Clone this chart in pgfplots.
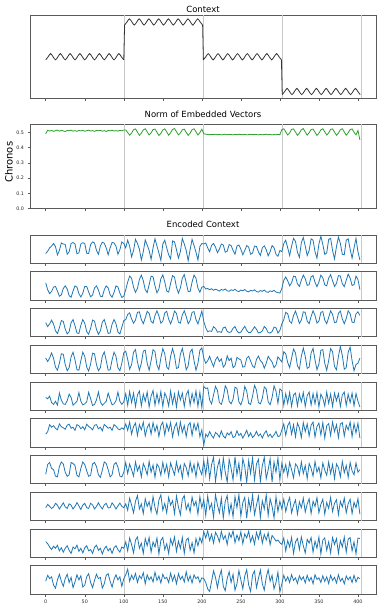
\documentclass[border=0pt]{standalone}
\usepackage{pgfplots}
\pgfplotsset{compat=1.18}
\usepackage{fontspec}
\setmainfont{DejaVu Sans}
\definecolor{cblue}{HTML}{1F77B4}
\definecolor{cgreen}{HTML}{2CA02C}
\definecolor{cgray}{HTML}{C8C8C8}
\definecolor{cframe}{HTML}{5A5A5A}
\pgfplotsset{
 panel/.style={
  scale only axis, width=346pt, anchor=north west,
  xmin=-20.15, xmax=423.15,
  axis line style={cframe, line width=0.7pt},
  xtick={0,50,...,400}, xticklabels={},
  xtick pos=bottom, ytick pos=left,
  tick align=outside, major tick length=2.5pt,
  tick style={cframe, line width=0.5pt},
  tick label style={font=\fontsize{4.8}{5}\selectfont, text=black!85},
  /pgf/number format/assume math mode=true,
  extra x ticks={101,202,303,404},
  extra x tick labels={},
  extra x tick style={grid=major, major tick length=0pt},
  major grid style={cgray, line width=0.8pt},
  title style={font=\fontsize{8.5}{10}\selectfont},
 },
 enc/.style={panel, height=28.3pt, ymin=-0.05, ymax=1.05, ytick=\empty},
 eline/.style={cblue, line width=0.8pt},
}
\begin{document}
\begin{tikzpicture}
\useasboundingbox (0pt,-609pt) rectangle (381pt,0pt);
% ---------------- Context
\begin{axis}[panel, at={(30pt,-15pt)}, height=83.5pt, ymin=-1.2, ymax=1.2, ytick=\empty, title={Context}, title style={yshift=-7pt}]
\addplot[black!80, line width=0.8pt, smooth] coordinates {(0,-.09)(3.125,0)(6.25,.09)(9.375,0)(12.5,-.09)(15.625,0)(18.75,.09)(21.875,0)(25,-.09)(28.125,0)(31.25,.09)(34.375,0)(37.5,-.09)(40.625,0)(43.75,.09)(46.875,0)(50,-.09)(53.125,0)(56.25,.09)(59.375,0)(62.5,-.09)(65.625,0)(68.75,.09)(71.875,0)(75,-.09)(78.125,0)(81.25,.09)(84.375,0)(87.5,-.09)(90.625,0)(93.75,.09)(96.875,0)(100,-.09)};
\addplot[black!80, line width=0.8pt, smooth] coordinates {(101,.91)(104.125,1)(107.25,1.09)(110.375,1)(113.5,.91)(116.625,1)(119.75,1.09)(122.875,1)(126,.91)(129.125,1)(132.25,1.09)(135.375,1)(138.5,.91)(141.625,1)(144.75,1.09)(147.875,1)(151,.91)(154.125,1)(157.25,1.09)(160.375,1)(163.5,.91)(166.625,1)(169.75,1.09)(172.875,1)(176,.91)(179.125,1)(182.25,1.09)(185.375,1)(188.5,.91)(191.625,1)(194.75,1.09)(197.875,1)(201,.91)};
\addplot[black!80, line width=0.8pt, smooth] coordinates {(202,-.09)(205.125,0)(208.25,.09)(211.375,0)(214.5,-.09)(217.625,0)(220.75,.09)(223.875,0)(227,-.09)(230.125,0)(233.25,.09)(236.375,0)(239.5,-.09)(242.625,0)(245.75,.09)(248.875,0)(252,-.09)(255.125,0)(258.25,.09)(261.375,0)(264.5,-.09)(267.625,0)(270.75,.09)(273.875,0)(277,-.09)(280.125,0)(283.25,.09)(286.375,0)(289.5,-.09)(292.625,0)(295.75,.09)(298.875,0)(302,-.09)};
\addplot[black!80, line width=0.8pt, smooth] coordinates {(303,-1.09)(306.125,-1)(309.25,-.91)(312.375,-1)(315.5,-1.09)(318.625,-1)(321.75,-.91)(324.875,-1)(328,-1.09)(331.125,-1)(334.25,-.91)(337.375,-1)(340.5,-1.09)(343.625,-1)(346.75,-.91)(349.875,-1)(353,-1.09)(356.125,-1)(359.25,-.91)(362.375,-1)(365.5,-1.09)(368.625,-1)(371.75,-.91)(374.875,-1)(378,-1.09)(381.125,-1)(384.25,-.91)(387.375,-1)(390.5,-1.09)(393.625,-1)(396.75,-.91)(399.875,-1)(403,-1.09)};
\addplot[black!80, line width=0.8pt] coordinates {(100,-.09)(101,.91)};
\addplot[black!80, line width=0.8pt] coordinates {(201,.91)(202,-.09)};
\addplot[black!80, line width=0.8pt] coordinates {(302,-.09)(303,-1.09)};
\end{axis}
% ---------------- Norm
\begin{axis}[panel, at={(30pt,-124.5pt)}, height=84pt, ymin=0, ymax=0.551,
  ytick={0,0.1,0.2,0.3,0.4,0.5}, yticklabels={0.0,0.1,0.2,0.3,0.4,0.5},
  title={Norm of Embedded Vectors}, title style={yshift=-3pt},
  ylabel={Chronos}, ylabel style={font=\fontsize{13}{15}\selectfont},
  every axis y label/.style={at={(axis description cs:-0.061,0.55)}, rotate=90, anchor=center}]
\addplot[cgreen, line width=0.8pt] coordinates {(0,.49)(2.5,.513)(5,.508)(7.5,.512)(10,.506)(12.5,.511)(15,.514)(17.5,.507)(20,.512)(22.5,.509)(25,.505)(27.5,.512)(30,.51)(32.5,.514)(35,.507)(37.5,.511)(40,.506)(42.5,.512)(45,.509)(47.5,.513)(50,.507)(52.5,.51)(55,.514)(57.5,.508)(60,.511)(62.5,.506)(65,.512)(67.5,.51)(70,.513)(72.5,.507)(75,.511)(77.5,.505)(80,.512)(82.5,.509)(85,.514)(87.5,.508)(90,.511)(92.5,.507)(95,.513)(97.5,.51)(100,.515)
(102.5,.515)(105,.498)(107.5,.481)(110,.495)(112.5,.517)(115,.522)(117.5,.501)(120,.48)(122.5,.494)(125,.516)(127.5,.523)(130,.503)(132.5,.482)(135,.496)(137.5,.518)(140,.521)(142.5,.5)(145,.479)(147.5,.493)(150,.515)(152.5,.522)(155,.502)(157.5,.481)(160,.497)(162.5,.519)(165,.524)(167.5,.504)(170,.483)(172.5,.495)(175,.516)(177.5,.521)(180,.499)(182.5,.48)(185,.494)(187.5,.517)(190,.523)(192.5,.503)(195,.482)(197.5,.498)(200,.52)
(202.5,.49)(205,.487)(207.5,.486)(210,.484)(212.5,.486)(215,.485)(217.5,.487)(220,.484)(222.5,.486)(225,.483)(227.5,.485)(230,.487)(232.5,.484)(235,.486)(237.5,.485)(240,.483)(242.5,.486)(245,.484)(247.5,.487)(250,.485)(252.5,.484)(255,.486)(257.5,.483)(260,.485)(262.5,.487)(265,.484)(267.5,.486)(270,.485)(272.5,.483)(275,.486)(277.5,.484)(280,.485)(282.5,.487)(285,.484)(287.5,.486)(290,.483)(292.5,.485)(295,.484)(297.5,.486)(300,.484)
(302.5,.518)(305,.523)(307.5,.503)(310,.482)(312.5,.496)(315,.519)(317.5,.522)(320,.501)(322.5,.48)(325,.495)(327.5,.517)(330,.524)(332.5,.502)(335,.481)(337.5,.497)(340,.518)(342.5,.521)(345,.5)(347.5,.479)(350,.494)(352.5,.516)(355,.523)(357.5,.503)(360,.482)(362.5,.496)(365,.519)(367.5,.522)(370,.501)(372.5,.48)(375,.495)(377.5,.517)(380,.523)(382.5,.502)(385,.481)(387.5,.497)(390,.518)(392.5,.522)(395,.5)(397.5,.483)(400,.512)(402.5,.45)};
\end{axis}
% ---------------- Encoded 1
\begin{axis}[enc, at={(30pt,-235pt)}, title={Encoded Context}, title style={yshift=-2pt}]
\addplot[eline] coordinates {(0,.33)(2.5,.42)(5,.55)(7.5,.62)(10,.72)(12.5,.6)(15,.28)(17.5,.45)(20,.74)(22.5,.7)(25,.68)(27.5,.3)(30,.4)(32.5,.72)(35,.76)(37.5,.7)(40,.32)(42.5,.36)(45,.7)(47.5,.75)(50,.72)(52.5,.34)(55,.33)(57.5,.68)(60,.78)(62.5,.74)(65,.45)(67.5,.3)(70,.62)(72.5,.77)(75,.73)(77.5,.55)(80,.28)(82.5,.55)(85,.76)(87.5,.74)(90,.62)(92.5,.3)(95,.48)(97.5,.78)(100,.72)
(102.5,.55)(105,.85)(107.5,.62)(110,.2)(112.5,.45)(115,.88)(117.5,.72)(120,.5)(122.5,.08)(125,.4)(127.5,.86)(130,.66)(132.5,.45)(135,.1)(137.5,.55)(140,.9)(142.5,.62)(145,.35)(147.5,.06)(150,.7)(152.5,.85)(155,.55)(157.5,.28)(160,.12)(162.5,.82)(165,.78)(167.5,.48)(170,.15)(172.5,.4)(175,.92)(177.5,.7)(180,.45)(182.5,.05)(185,.48)(187.5,.88)(190,.64)(192.5,.38)(195,.08)(197.5,.6)(200,.72)
(202.5,.7)(205,.74)(207.5,.55)(210,.4)(212.5,.65)(215,.72)(217.5,.58)(220,.36)(222.5,.5)(225,.7)(227.5,.66)(230,.38)(232.5,.42)(235,.68)(237.5,.64)(240,.45)(242.5,.3)(245,.62)(247.5,.66)(250,.5)(252.5,.28)(255,.45)(257.5,.64)(260,.58)(262.5,.3)(265,.35)(267.5,.62)(270,.6)(272.5,.4)(275,.25)(277.5,.55)(280,.63)(282.5,.48)(285,.24)(287.5,.4)(290,.64)(292.5,.56)(295,.3)(297.5,.22)(300,.45)
(302.5,.4)(305,.72)(307.5,.85)(310,.55)(312.5,.25)(315,.62)(317.5,.92)(320,.8)(322.5,.38)(325,.18)(327.5,.75)(330,.95)(332.5,.62)(335,.25)(337.5,.45)(340,.9)(342.5,.85)(345,.4)(347.5,.15)(350,.7)(352.5,1)(355,.68)(357.5,.3)(360,.35)(362.5,.88)(365,.92)(367.5,.45)(370,.12)(372.5,.6)(375,.97)(377.5,.72)(380,.3)(382.5,.28)(385,.85)(387.5,.9)(390,.5)(392.5,.15)(395,.55)(397.5,.92)(400,.4)(402.5,.08)};
\end{axis}
% ---------------- Encoded 2
\begin{axis}[enc, at={(30pt,-271.75pt)}]
\addplot[eline] coordinates {(0,.62)(2.5,.35)(5,.2)(7.5,.28)(10,.45)(12.5,.48)(15,.3)(17.5,.1)(20,.15)(22.5,.4)(25,.5)(27.5,.38)(30,.12)(32.5,.06)(35,.3)(37.5,.5)(40,.45)(42.5,.2)(45,.07)(47.5,.22)(50,.48)(52.5,.48)(55,.26)(57.5,.08)(60,.14)(62.5,.42)(65,.5)(67.5,.34)(70,.1)(72.5,.08)(75,.35)(77.5,.5)(80,.42)(82.5,.16)(85,.06)(87.5,.25)(90,.5)(92.5,.46)(95,.22)(97.5,.05)(100,.1)
(102.5,.35)(105,.65)(107.5,.88)(110,.8)(112.5,.45)(115,.25)(117.5,.4)(120,.75)(122.5,.92)(125,.7)(127.5,.35)(130,.24)(132.5,.55)(135,.88)(137.5,.85)(140,.5)(142.5,.23)(145,.38)(147.5,.78)(150,.93)(152.5,.66)(155,.3)(157.5,.26)(160,.6)(162.5,.9)(165,.84)(167.5,.45)(170,.22)(172.5,.42)(175,.8)(177.5,.94)(180,.62)(182.5,.28)(185,.28)(187.5,.65)(190,.92)(192.5,.8)(195,.42)(197.5,.25)(200,.45)
(202.5,.48)(205,.38)(207.5,.4)(210,.35)(212.5,.39)(215,.33)(217.5,.37)(220,.34)(222.5,.3)(225,.36)(227.5,.33)(230,.38)(232.5,.31)(235,.29)(237.5,.35)(240,.32)(242.5,.37)(245,.3)(247.5,.28)(250,.34)(252.5,.31)(255,.36)(257.5,.29)(260,.27)(262.5,.33)(265,.3)(267.5,.35)(270,.28)(272.5,.26)(275,.32)(277.5,.29)(280,.34)(282.5,.27)(285,.25)(287.5,.31)(290,.28)(292.5,.33)(295,.26)(297.5,.24)(300,.22)
(302.5,.4)(305,.72)(307.5,.85)(310,.7)(312.5,.5)(315,.62)(317.5,.88)(320,.86)(322.5,.58)(325,.48)(327.5,.72)(330,.92)(332.5,.78)(335,.52)(337.5,.55)(340,.85)(342.5,.9)(345,.64)(347.5,.47)(350,.65)(352.5,.92)(355,.82)(357.5,.54)(360,.5)(362.5,.8)(365,.94)(367.5,.7)(370,.48)(372.5,.6)(375,.9)(377.5,.88)(380,.58)(382.5,.47)(385,.72)(387.5,.96)(390,.8)(392.5,.52)(395,.55)(397.5,.88)(400,.75)(402.5,.36)};
\end{axis}
% ---------------- Encoded 3
\begin{axis}[enc, at={(30pt,-308.5pt)}]
\addplot[eline] coordinates {(0,.5)(2.5,.35)(5,.45)(7.5,.6)(10,.45)(12.5,.18)(15,.08)(17.5,.3)(20,.58)(22.5,.55)(25,.25)(27.5,.06)(30,.15)(32.5,.5)(35,.62)(37.5,.38)(40,.1)(42.5,.08)(45,.4)(47.5,.62)(50,.48)(52.5,.15)(55,.05)(57.5,.28)(60,.6)(62.5,.56)(65,.24)(67.5,.05)(70,.18)(72.5,.52)(75,.62)(77.5,.36)(80,.08)(82.5,.1)(85,.44)(87.5,.62)(90,.46)(92.5,.14)(95,.06)(97.5,.32)(100,.58)
(102.5,.62)(105,.82)(107.5,.88)(110,.65)(112.5,.48)(115,.6)(117.5,.9)(120,.92)(122.5,.62)(125,.46)(127.5,.68)(130,.94)(132.5,.86)(135,.55)(137.5,.48)(140,.78)(142.5,.96)(145,.76)(147.5,.48)(150,.55)(152.5,.88)(155,.94)(157.5,.64)(160,.45)(162.5,.66)(165,.95)(167.5,.86)(170,.52)(172.5,.48)(175,.8)(177.5,.96)(180,.74)(182.5,.46)(185,.58)(187.5,.9)(190,.93)(192.5,.62)(195,.45)(197.5,.7)(200,.95)
(202.5,.55)(205,.3)(207.5,.15)(210,.18)(212.5,.16)(215,.34)(217.5,.28)(220,.13)(222.5,.15)(225,.12)(227.5,.3)(230,.33)(232.5,.16)(235,.12)(237.5,.14)(240,.28)(242.5,.35)(245,.18)(247.5,.1)(250,.13)(252.5,.25)(255,.36)(257.5,.2)(260,.11)(262.5,.12)(265,.22)(267.5,.34)(270,.24)(272.5,.1)(275,.12)(277.5,.18)(280,.35)(282.5,.27)(285,.11)(287.5,.1)(290,.15)(292.5,.33)(295,.3)(297.5,.1)(300,.2)
(302.5,.45)(305,.62)(307.5,.9)(310,.85)(312.5,.55)(315,.48)(317.5,.78)(320,.95)(322.5,.72)(325,.47)(327.5,.6)(330,.92)(332.5,.9)(335,.56)(337.5,.46)(340,.74)(342.5,.96)(345,.78)(347.5,.48)(350,.56)(352.5,.9)(355,.93)(357.5,.6)(360,.46)(362.5,.7)(365,.96)(367.5,.82)(370,.5)(372.5,.52)(375,.86)(377.5,.95)(380,.64)(382.5,.46)(385,.66)(387.5,.96)(390,.85)(392.5,.52)(395,.5)(397.5,.84)(400,.92)(402.5,.78)};
\end{axis}
% ---------------- Encoded 4
\begin{axis}[enc, at={(30pt,-345.25pt)}]
\addplot[eline] coordinates {(0,.55)(2.5,.42)(5,.55)(7.5,.75)(10,.55)(12.5,.2)(15,.08)(17.5,.35)(20,.72)(22.5,.7)(25,.3)(27.5,.06)(30,.18)(32.5,.6)(35,.78)(37.5,.48)(40,.1)(42.5,.08)(45,.45)(47.5,.78)(50,.62)(52.5,.2)(55,.05)(57.5,.32)(60,.74)(62.5,.72)(65,.3)(67.5,.06)(70,.18)(72.5,.62)(75,.79)(77.5,.46)(80,.08)(82.5,.1)(85,.48)(87.5,.78)(90,.62)(92.5,.18)(95,.06)(97.5,.35)(100,.76)
(102.5,.82)(105,.5)(107.5,.12)(110,.3)(112.5,.78)(115,.88)(117.5,.4)(120,.08)(122.5,.35)(125,.82)(127.5,.86)(130,.35)(132.5,.08)(135,.45)(137.5,.88)(140,.8)(142.5,.28)(145,.1)(147.5,.55)(150,.92)(152.5,.72)(155,.2)(157.5,.12)(160,.62)(162.5,.92)(165,.64)(167.5,.15)(170,.18)(172.5,.7)(175,.93)(177.5,.55)(180,.1)(182.5,.25)(185,.78)(187.5,.9)(190,.45)(192.5,.08)(195,.35)(197.5,.85)(200,.95)
(202.5,.55)(205,.35)(207.5,.45)(210,.62)(212.5,.4)(215,.22)(217.5,.48)(220,.6)(222.5,.42)(225,.52)(227.5,.2)(230,.3)(232.5,.64)(235,.45)(237.5,.55)(240,.18)(242.5,.25)(245,.58)(247.5,.52)(250,.48)(252.5,.2)(255,.22)(257.5,.55)(260,.62)(262.5,.44)(265,.24)(267.5,.18)(270,.5)(272.5,.63)(275,.45)(277.5,.38)(280,.16)(282.5,.35)(285,.62)(287.5,.5)(290,.4)(292.5,.18)(295,.28)(297.5,.6)(300,.5)
(302.5,.4)(305,.8)(307.5,.72)(310,.38)(312.5,.18)(315,.55)(317.5,.9)(320,.75)(322.5,.25)(325,.12)(327.5,.62)(330,.94)(332.5,.62)(335,.15)(337.5,.2)(340,.75)(342.5,.93)(345,.48)(347.5,.1)(350,.32)(352.5,.85)(355,.88)(357.5,.35)(360,.08)(362.5,.45)(365,.92)(367.5,.8)(370,.22)(372.5,.1)(375,.62)(377.5,1)(380,.65)(382.5,.12)(385,.18)(387.5,.78)(390,.98)(392.5,.45)(395,.06)(397.5,.3)(400,.35)(402.5,.55)};
\end{axis}
% ---------------- Encoded 5
\begin{axis}[enc, at={(30pt,-382pt)}]
\addplot[eline] coordinates {(0,.45)(2.5,.4)(5,.5)(7.5,.25)(10,.18)(12.5,.3)(15,.15)(17.5,.62)(20,.35)(22.5,.2)(25,.18)(27.5,.32)(30,.58)(32.5,.45)(35,.15)(37.5,.22)(40,.3)(42.5,.64)(45,.3)(47.5,.16)(50,.2)(52.5,.28)(55,.65)(57.5,.4)(60,.14)(62.5,.18)(65,.35)(67.5,.66)(70,.28)(72.5,.15)(75,.22)(77.5,.3)(80,.62)(82.5,.38)(85,.16)(87.5,.2)(90,.32)(92.5,.66)(95,.3)(97.5,.18)(100,.28)
(102.5,.6)(105,.15)(107.5,.68)(110,.25)(112.5,.62)(115,.1)(117.5,.55)(120,.7)(122.5,.12)(125,.58)(127.5,.3)(130,.66)(132.5,.08)(135,.5)(137.5,.72)(140,.15)(142.5,.6)(145,.22)(147.5,.68)(150,.1)(152.5,.62)(155,.45)(157.5,.12)(160,.7)(162.5,.2)(165,.58)(167.5,.08)(170,.66)(172.5,.35)(175,.62)(177.5,.1)(180,.56)(182.5,.72)(185,.15)(187.5,.6)(190,.25)(192.5,.7)(195,.1)(197.5,.65)(200,.05)
(202.5,.88)(205,.8)(207.5,.82)(210,.35)(212.5,.2)(215,.55)(217.5,.88)(220,.72)(222.5,.25)(225,.18)(227.5,.45)(230,.9)(232.5,.75)(235,.3)(237.5,.2)(240,.38)(242.5,.85)(245,.8)(247.5,.28)(250,.16)(252.5,.4)(255,.88)(257.5,.7)(260,.22)(262.5,.18)(265,.5)(267.5,.92)(270,.74)(272.5,.25)(275,.2)(277.5,.42)(280,.86)(282.5,.78)(285,.28)(287.5,.17)(290,.45)(292.5,.9)(295,.7)(297.5,.22)(300,.78)
(302.5,.72)(305,.15)(307.5,.6)(310,.22)(312.5,.65)(315,.1)(317.5,.55)(320,.62)(322.5,.12)(325,.58)(327.5,.28)(330,.64)(332.5,.1)(335,.52)(337.5,.66)(340,.15)(342.5,.6)(345,.2)(347.5,.64)(350,.08)(352.5,.58)(355,.42)(357.5,.12)(360,.66)(362.5,.22)(365,.58)(367.5,.1)(370,.62)(372.5,.32)(375,.6)(377.5,.1)(380,.55)(382.5,.66)(385,.14)(387.5,.58)(390,.25)(392.5,.62)(395,.12)(397.5,.6)(400,.3)(402.5,.08)};
\end{axis}
% ---------------- Encoded 6
\begin{axis}[enc, at={(30pt,-418.75pt)}]
\addplot[eline] coordinates {(0,.45)(2.5,.55)(5,.82)(7.5,.72)(10,.78)(12.5,.68)(15,.62)(17.5,.85)(20,.74)(22.5,.7)(25,.64)(27.5,.8)(30,.84)(32.5,.68)(35,.72)(37.5,.6)(40,.82)(42.5,.78)(45,.66)(47.5,.74)(50,.62)(52.5,.84)(55,.75)(57.5,.7)(60,.62)(62.5,.8)(65,.82)(67.5,.66)(70,.72)(72.5,.58)(75,.83)(77.5,.76)(80,.68)(82.5,.72)(85,.6)(87.5,.82)(90,.76)(92.5,.66)(95,.62)(97.5,.7)(100,.64)
(102.5,.85)(105,.6)(107.5,.92)(110,.45)(112.5,.75)(115,.88)(117.5,.4)(120,.82)(122.5,.62)(125,.92)(127.5,.38)(130,.7)(132.5,.86)(135,.45)(137.5,.9)(140,.55)(142.5,.8)(145,.36)(147.5,.78)(150,.92)(152.5,.42)(155,.85)(157.5,.58)(160,.9)(162.5,.35)(165,.72)(167.5,.88)(170,.44)(172.5,.92)(175,.52)(177.5,.78)(180,.36)(182.5,.8)(185,.9)(187.5,.4)(190,.86)(192.5,.6)(195,.88)(197.5,.35)(200,.62)
(202.5,.02)(205,.45)(207.5,.35)(210,.55)(212.5,.4)(215,.3)(217.5,.52)(220,.45)(222.5,.34)(225,.58)(227.5,.38)(230,.3)(232.5,.5)(235,.42)(237.5,.55)(240,.32)(242.5,.36)(245,.58)(247.5,.4)(250,.48)(252.5,.3)(255,.44)(257.5,.6)(260,.36)(262.5,.5)(265,.32)(267.5,.4)(270,.56)(272.5,.38)(275,.46)(277.5,.3)(280,.48)(282.5,.58)(285,.35)(287.5,.45)(290,.32)(292.5,.42)(295,.56)(297.5,.36)(300,.38)
(302.5,.62)(305,.85)(307.5,.4)(310,.78)(312.5,.92)(315,.45)(317.5,.82)(320,.35)(322.5,.88)(325,.7)(327.5,.32)(330,.9)(332.5,.55)(335,.85)(337.5,.38)(340,.8)(342.5,.92)(345,.34)(347.5,.75)(350,.88)(352.5,.42)(355,.9)(357.5,.3)(360,.78)(362.5,.86)(365,.4)(367.5,.92)(370,.55)(372.5,.82)(375,.32)(377.5,.85)(380,.9)(382.5,.38)(385,.8)(387.5,.62)(390,.92)(392.5,.35)(395,.86)(397.5,.5)(400,.88)(402.5,.3)};
\end{axis}
% ---------------- Encoded 7
\begin{axis}[enc, at={(30pt,-455.5pt)}]
\addplot[eline] coordinates {(0,.32)(2.5,.7)(5,.78)(7.5,.55)(10,.5)(12.5,.25)(15,.22)(17.5,.62)(20,.8)(22.5,.72)(25,.4)(27.5,.24)(30,.3)(32.5,.78)(35,.74)(37.5,.66)(40,.28)(42.5,.22)(45,.55)(47.5,.8)(50,.7)(52.5,.45)(55,.24)(57.5,.28)(60,.72)(62.5,.78)(65,.62)(67.5,.3)(70,.2)(72.5,.48)(75,.8)(77.5,.74)(80,.5)(82.5,.22)(85,.3)(87.5,.7)(90,.78)(92.5,.6)(95,.25)(97.5,.22)(100,.4)
(102.5,.78)(105,.35)(107.5,.72)(110,.5)(112.5,.25)(115,.8)(117.5,.45)(120,.65)(122.5,.22)(125,.74)(127.5,.55)(130,.3)(132.5,.82)(135,.4)(137.5,.68)(140,.2)(142.5,.72)(145,.6)(147.5,.28)(150,.78)(152.5,.38)(155,.7)(157.5,.22)(160,.76)(162.5,.52)(165,.3)(167.5,.8)(170,.42)(172.5,.66)(175,.18)(177.5,.74)(180,.58)(182.5,.26)(185,.8)(187.5,.4)(190,.7)(192.5,.22)(195,.78)(197.5,.5)(200,.3)
(202.5,.85)(205,.3)(207.5,.92)(210,.15)(212.5,.7)(215,.98)(217.5,.05)(220,.6)(222.5,.88)(225,.2)(227.5,.95)(230,.4)(232.5,.02)(235,.9)(237.5,.55)(240,.1)(242.5,1)(245,.3)(247.5,.75)(250,.05)(252.5,.92)(255,.62)(257.5,0)(260,.85)(262.5,.35)(265,.96)(267.5,.1)(270,.72)(272.5,.9)(275,.04)(277.5,.66)(280,.98)(282.5,.15)(285,.5)(287.5,.92)(290,.02)(292.5,.8)(295,.4)(297.5,.95)(300,.1)
(302.5,.75)(305,.4)(307.5,.7)(310,.25)(312.5,.78)(315,.5)(317.5,.18)(320,.72)(322.5,.62)(325,.3)(327.5,.8)(330,.35)(332.5,.66)(335,.15)(337.5,.74)(340,.55)(342.5,.25)(345,.82)(347.5,.4)(350,.6)(352.5,.18)(355,.76)(357.5,.48)(360,.28)(362.5,.8)(365,.35)(367.5,.7)(370,.15)(372.5,.72)(375,.58)(377.5,.22)(380,.82)(382.5,.38)(385,.66)(387.5,.2)(390,.78)(392.5,.45)(395,.3)(397.5,.76)(400,.4)(402.5,.5)};
\end{axis}
% ---------------- Encoded 8
\begin{axis}[enc, at={(30pt,-492.25pt)}]
\addplot[eline] coordinates {(0,.45)(2.5,.58)(5,.5)(7.5,.42)(10,.48)(12.5,.62)(15,.55)(17.5,.4)(20,.52)(22.5,.64)(25,.48)(27.5,.42)(30,.6)(32.5,.55)(35,.4)(37.5,.5)(40,.65)(42.5,.52)(45,.38)(47.5,.55)(50,.62)(52.5,.45)(55,.42)(57.5,.62)(60,.56)(62.5,.4)(65,.5)(67.5,.64)(70,.5)(72.5,.4)(75,.56)(77.5,.62)(80,.44)(82.5,.45)(85,.64)(87.5,.54)(90,.4)(92.5,.52)(95,.63)(97.5,.5)(100,.45)
(102.5,.6)(105,.35)(107.5,.82)(110,.55)(112.5,.25)(115,.7)(117.5,.92)(120,.4)(122.5,.6)(125,.22)(127.5,.8)(130,.5)(132.5,.68)(135,.3)(137.5,.88)(140,.45)(142.5,.2)(145,.75)(147.5,.95)(150,.35)(152.5,.62)(155,.25)(157.5,.85)(160,.55)(162.5,.72)(165,.22)(167.5,.9)(170,.48)(172.5,.18)(175,.78)(177.5,.92)(180,.38)(182.5,.6)(185,.28)(187.5,.86)(190,.52)(192.5,.7)(195,.2)(197.5,.88)(200,.45)
(202.5,.75)(205,.15)(207.5,.9)(210,.4)(212.5,.62)(215,.08)(217.5,.95)(220,.55)(222.5,.25)(225,.82)(227.5,.05)(230,.7)(232.5,.92)(235,.2)(237.5,.6)(240,.1)(242.5,.88)(245,.45)(247.5,.96)(250,.12)(252.5,.65)(255,.85)(257.5,.04)(260,.78)(262.5,.35)(265,.94)(267.5,.18)(270,.55)(272.5,.9)(275,.06)(277.5,.72)(280,.4)(282.5,.95)(285,.15)(287.5,.8)(290,.5)(292.5,.05)(295,.88)(297.5,.3)(300,.7)
(302.5,.4)(305,.78)(307.5,.3)(310,.62)(312.5,.85)(315,.25)(317.5,.55)(320,.75)(322.5,.2)(325,.68)(327.5,.45)(330,.82)(332.5,.28)(335,.6)(337.5,.8)(340,.22)(342.5,.7)(345,.5)(347.5,.84)(350,.25)(352.5,.58)(355,.78)(357.5,.2)(360,.65)(362.5,.42)(365,.85)(367.5,.3)(370,.62)(372.5,.76)(375,.18)(377.5,.7)(380,.48)(382.5,.82)(385,.25)(387.5,.6)(390,.78)(392.5,.22)(395,.66)(397.5,.45)(400,.8)(402.5,.2)};
\end{axis}
% ---------------- Encoded 9
\begin{axis}[enc, at={(30pt,-529pt)}]
\addplot[eline] coordinates {(0,.56)(2.5,.48)(5,.35)(7.5,.25)(10,.38)(12.5,.3)(15,.42)(17.5,.2)(20,.32)(22.5,.15)(25,.3)(27.5,.4)(30,.22)(32.5,.1)(35,.35)(37.5,.28)(40,.42)(42.5,.18)(45,.3)(47.5,.12)(50,.32)(52.5,.4)(55,.2)(57.5,.25)(60,.1)(62.5,.34)(65,.42)(67.5,.22)(70,.3)(72.5,.08)(75,.28)(77.5,.38)(80,.2)(82.5,.3)(85,.1)(87.5,.32)(90,.4)(92.5,.25)(95,.15)(97.5,.35)(100,.3)
(102.5,.55)(105,.2)(107.5,.7)(110,.45)(112.5,.12)(115,.62)(117.5,.74)(120,.3)(122.5,.5)(125,.1)(127.5,.68)(130,.4)(132.5,.72)(135,.15)(137.5,.55)(140,.35)(142.5,.7)(145,.08)(147.5,.6)(150,.72)(152.5,.25)(155,.48)(157.5,.1)(160,.66)(162.5,.42)(165,.74)(167.5,.18)(170,.58)(172.5,.3)(175,.72)(177.5,.1)(180,.62)(182.5,.7)(185,.22)(187.5,.52)(190,.12)(192.5,.68)(195,.4)(197.5,.72)(200,.5)
(202.5,.95)(205,.7)(207.5,.98)(210,.6)(212.5,.85)(215,.5)(217.5,.92)(220,.78)(222.5,.55)(225,.96)(227.5,.65)(230,.8)(232.5,.45)(235,.9)(237.5,.72)(240,.98)(242.5,.52)(245,.82)(247.5,.6)(250,.94)(252.5,.48)(255,.86)(257.5,.7)(260,.97)(262.5,.55)(265,.78)(267.5,.46)(270,.92)(272.5,.66)(275,.98)(277.5,.5)(280,.84)(282.5,.62)(285,.9)(287.5,.44)(290,.8)(292.5,.7)(295,.58)(297.5,.62)(300,.52)
(302.5,.45)(305,.7)(307.5,.2)(310,.6)(312.5,.35)(315,.72)(317.5,.1)(320,.55)(322.5,.68)(325,.25)(327.5,.74)(330,.4)(332.5,.12)(335,.65)(337.5,.5)(340,.72)(342.5,.15)(345,.58)(347.5,.3)(350,.74)(352.5,.08)(355,.62)(357.5,.7)(360,.22)(362.5,.55)(365,.12)(367.5,.72)(370,.45)(372.5,.68)(375,.1)(377.5,.6)(380,.35)(382.5,.74)(385,.15)(387.5,.65)(390,.72)(392.5,.2)(395,.55)(397.5,.08)(400,.7)(402.5,.68)};
\end{axis}
% ---------------- Encoded 10
\begin{axis}[enc, at={(30pt,-565.75pt)}, xticklabels={0,50,100,150,200,250,300,350,400}]
\addplot[eline] coordinates {(0,.45)(2.5,.68)(5,.55)(7.5,.62)(10,.3)(12.5,.18)(15,.5)(17.5,.72)(20,.45)(22.5,.25)(25,.55)(27.5,.72)(30,.4)(32.5,.6)(35,.2)(37.5,.42)(40,.7)(42.5,.5)(45,.66)(47.5,.22)(50,.3)(52.5,.62)(55,.74)(57.5,.4)(60,.2)(62.5,.48)(65,.72)(67.5,.55)(70,.6)(72.5,.18)(75,.35)(77.5,.68)(80,.74)(82.5,.45)(85,.22)(87.5,.52)(90,.7)(92.5,.5)(95,.62)(97.5,.25)(100,.55)
(102.5,.7)(105,.92)(107.5,.45)(110,.68)(112.5,.52)(115,.75)(117.5,.4)(120,.66)(122.5,.55)(125,.78)(127.5,.35)(130,.7)(132.5,.5)(135,.62)(137.5,.42)(140,.8)(142.5,.48)(145,.65)(147.5,.38)(150,.72)(152.5,.55)(155,.6)(157.5,.4)(160,.76)(162.5,.46)(165,.68)(167.5,.35)(170,.74)(172.5,.52)(175,.64)(177.5,.42)(180,.82)(182.5,.45)(185,.66)(187.5,.38)(190,.7)(192.5,.55)(195,.62)(197.5,.4)(200,.58)
(202.5,.55)(205,.4)(207.5,.15)(210,.05)(212.5,.45)(215,.85)(217.5,.6)(220,.2)(222.5,.62)(225,.88)(227.5,.25)(230,.08)(232.5,.55)(235,.82)(237.5,.4)(240,.72)(242.5,.1)(245,.35)(247.5,.86)(250,.5)(252.5,.15)(255,.65)(257.5,.9)(260,.3)(262.5,.05)(265,.7)(267.5,.85)(270,.2)(272.5,.55)(275,.88)(277.5,.35)(280,.1)(282.5,.6)(285,.9)(287.5,.45)(290,.68)(292.5,.15)(295,.4)(297.5,.8)(300,.03)
(302.5,.35)(305,.68)(307.5,.45)(310,.62)(312.5,.4)(315,.7)(317.5,.48)(320,.58)(322.5,.36)(325,.66)(327.5,.5)(330,.62)(332.5,.38)(335,.68)(337.5,.45)(340,.6)(342.5,.35)(345,.7)(347.5,.52)(350,.58)(352.5,.4)(355,.66)(357.5,.44)(360,.62)(362.5,.36)(365,.68)(367.5,.48)(370,.6)(372.5,.38)(375,.7)(377.5,.45)(380,.56)(382.5,.35)(385,.65)(387.5,.5)(390,.62)(392.5,.4)(395,.68)(397.5,.42)(400,.6)(402.5,.55)};
\end{axis}
\end{tikzpicture}
\end{document}
